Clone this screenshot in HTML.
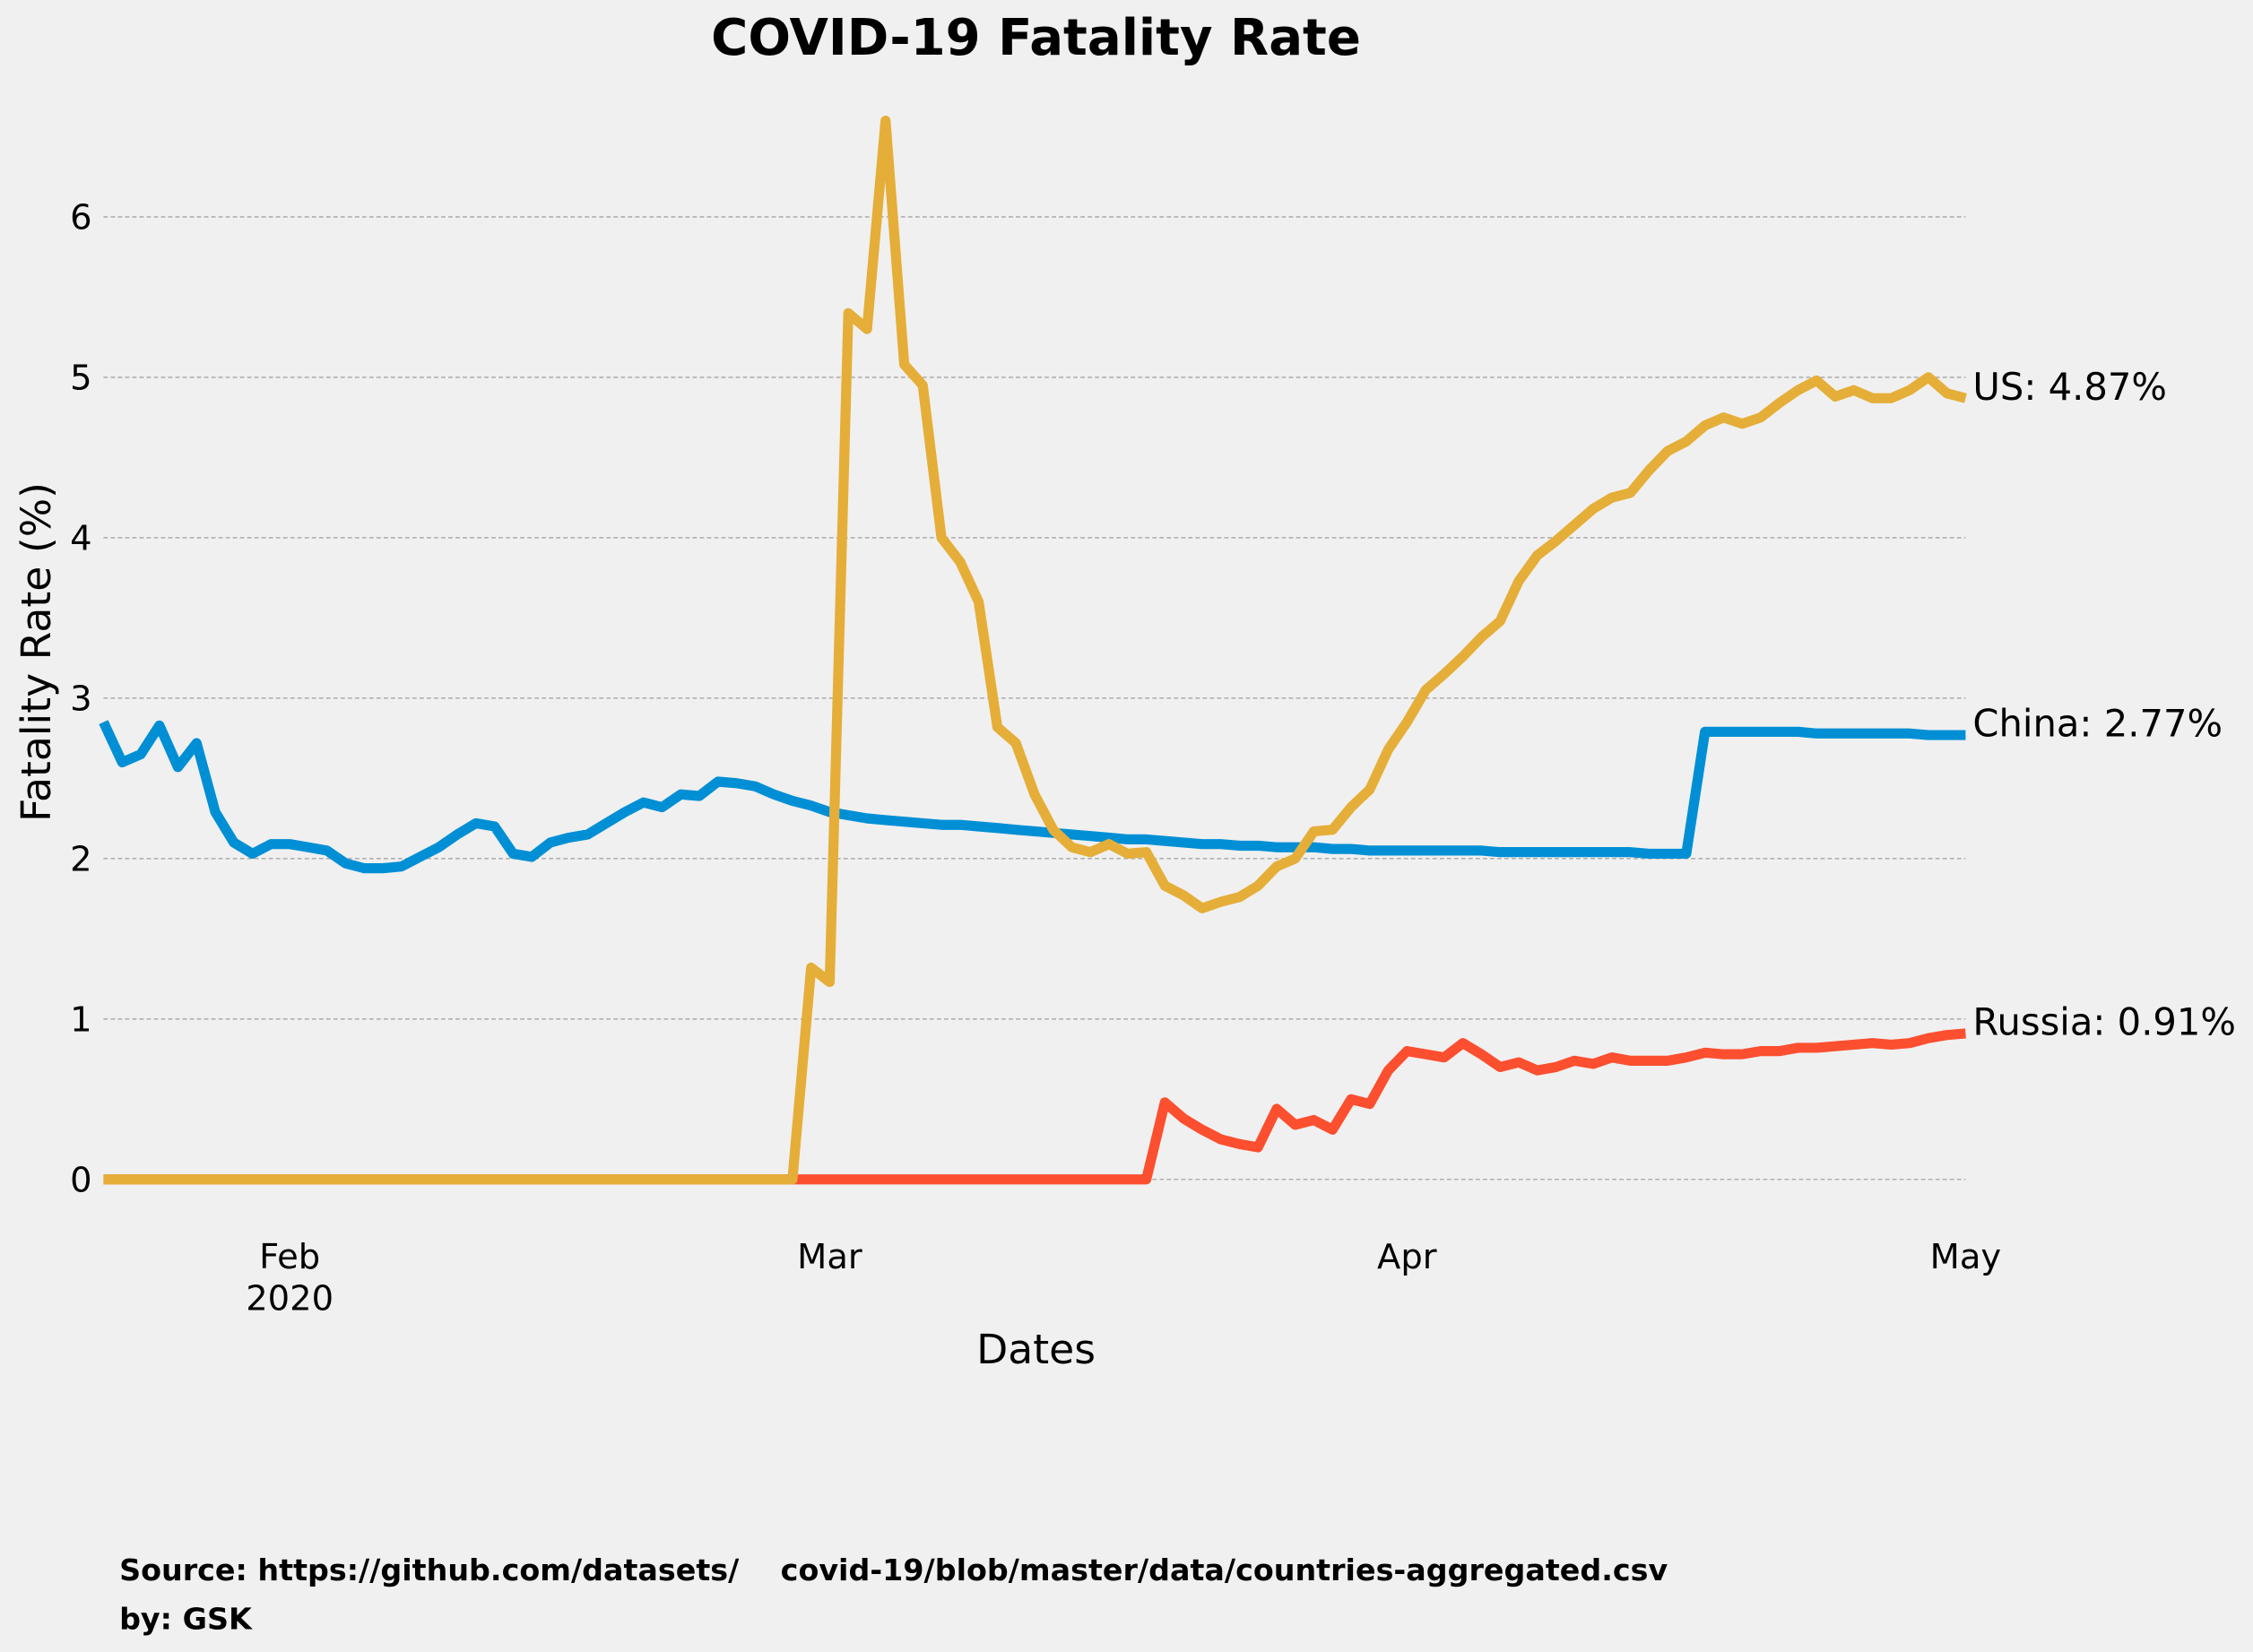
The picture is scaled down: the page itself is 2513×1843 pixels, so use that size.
<!DOCTYPE html>
<html><head><meta charset="utf-8"><style>
html,body{margin:0;padding:0;background:#f0f0f0;}
svg{display:block;font-family:"DejaVu Sans","Liberation Sans",sans-serif;}
</style></head><body>
<svg id="chart" width="2513" height="1843" viewBox="0 0 1568 1150" xmlns="http://www.w3.org/2000/svg">
<rect width="1568" height="1150" fill="#f0f0f0"/>
<text x="721" y="38" text-anchor="middle" font-size="35" font-weight="bold" fill="#000">COVID-19 Fatality Rate</text>
<g id="grid"></g>
<g id="yticks"></g>
<g id="xticks"></g>
<g id="series"></g>
<g id="labels"></g>
<text x="721" y="949" text-anchor="middle" font-size="28.5" fill="#000">Dates</text>
<text transform="translate(35,454) rotate(-90)" text-anchor="middle" font-size="28.5" fill="#000">Fatality Rate (%)</text>
<text x="83" y="1100" font-size="20.8" font-weight="bold" fill="#000" xml:space="preserve">Source: https://github.com/datasets/    covid-19/blob/master/data/countries-aggregated.csv</text>
<text x="83" y="1134" font-size="20.8" font-weight="bold" fill="#000">by: GSK</text>
</svg>
<script>
const yTicks = [0,1,2,3,4,5,6];
const xTickDays = [10,39,70,100];
const xTickLabels = ["Feb","Mar","Apr","May"];
const chinaVals = [2.85,2.6,2.65,2.83,2.57,2.72,2.29,2.1,2.03,2.09,
 2.09,2.07,2.05,1.97,1.94,1.94,1.95,2.01,2.07,2.15,2.22,2.2,2.03,2.01,2.1,2.13,2.15,2.22,2.29,2.35,2.32,2.4,2.39,2.48,2.47,2.45,2.40,2.36,2.33,
 2.29,2.27,2.25,2.24,2.23,2.22,2.21,2.21,2.20,2.19,2.18,2.17,2.16,2.15,2.14,2.13,2.12,2.12,2.11,2.10,2.09,2.09,2.08,2.08,2.07,2.07,2.07,2.06,2.06,2.05,2.05,
 2.05,2.05,2.05,2.05,2.05,2.04,2.04,2.04,2.04,2.04,2.04,2.04,2.04,2.03,2.03,2.03,
 2.79,2.79,2.79,2.79,2.79,2.79,2.78,2.78,2.78,2.78,2.78,2.78,2.77,2.77,
 2.77];
const usVals = [0,0,0,0,0,0,0,0,0,0,0,0,0,0,0,0,0,0,0,0,0,0,0,0,0,0,0,0,0,0,0,0,0,0,0,0,0,0,
 1.32,
 1.23,5.4,5.3,6.6,5.08,4.95,4.0,3.85,3.6,2.82,2.72,2.4,2.18,2.07,2.04,2.09,2.03,2.04,1.83,1.77,1.69,1.73,1.76,1.83,1.95,2.0,2.17,2.18,2.32,2.43,2.68,
 2.85,3.05,3.15,3.26,3.38,3.48,3.73,3.89,3.98,4.08,4.18,4.25,4.28,4.42,4.54,4.6,4.7,4.75,4.71,4.75,4.84,4.92,4.98,4.88,4.92,4.87,4.87,4.92,5.0,4.9,4.87];
const russiaVals = [0,0,0,0,0,0,0,0,0,0,0,0,0,0,0,0,0,0,0,0,0,0,0,0,0,0,0,0,0,0,0,0,0,0,0,0,0,0,0,0,0,0,0,0,0,0,0,0,0,0,0,0,0,0,0,0,0,
 0.48,0.38,0.31,0.25,0.22,0.2,0.44,0.34,0.37,0.31,0.5,0.47,0.68,
 0.8,0.78,0.76,0.85,0.78,0.7,0.73,0.68,0.7,0.74,0.72,0.76,0.74,0.74,0.74,0.76,0.79,0.78,0.78,0.8,0.8,0.82,0.82,0.83,0.84,0.85,0.84,0.85,0.88,0.9,0.91];
const seriesNames = ["China","Russia","US"];
const NS="http://www.w3.org/2000/svg";
function xs(d){return 72+d*12.96;}
function ys(v){return 821-v*111.67;}
function mk(tag,attrs,parent){const e=document.createElementNS(NS,tag);for(const k in attrs)e.setAttribute(k,attrs[k]);parent.appendChild(e);return e;}
const grid=document.getElementById('grid'),yt=document.getElementById('yticks'),xt=document.getElementById('xticks');
yTicks.forEach(v=>{
 const l=mk('line',{x1:72,x2:1368,y1:ys(v),y2:ys(v),stroke:'#b0b0b0','stroke-width':1,'stroke-dasharray':'3,2'},grid);
 
 
 const t=mk('text',{x:64,y:ys(v)+8.5,'text-anchor':'end','font-size':24,fill:'#000'},yt);
 t.textContent=v;
 
 
});
xTickDays.forEach((d,i)=>{
 const t=mk('text',{x:xs(d),y:883,'text-anchor':'middle','font-size':24,fill:'#000'},xt);
 t.textContent=xTickLabels[i];
 
 
 if(i===0){const t2=mk('text',{x:xs(d),y:912,'text-anchor':'middle','font-size':24,fill:'#000'},xt);t2.textContent='2020';
 
 }
});
const sg=document.getElementById('series'),lg=document.getElementById('labels');
const data=[chinaVals,russiaVals,usVals],cols=['#008fd5','#fc4f30','#e5ae38'];
data.forEach((arr,i)=>{
 const pts=arr.map((v,d)=>xs(d).toFixed(1)+','+ys(v).toFixed(1)).join(' ');
 const p=mk('polyline',{points:pts,fill:'none',stroke:cols[i],'stroke-width':7,'stroke-linejoin':'round'},sg);
 
 
 const last=arr[arr.length-1];
 const t=mk('text',{x:1373,y:ys(last)+1,'font-size':26,fill:'#000'},lg);
 t.textContent=seriesNames[i]+': '+last.toFixed(2)+'%';
 
 
});
</script>
</body></html>
